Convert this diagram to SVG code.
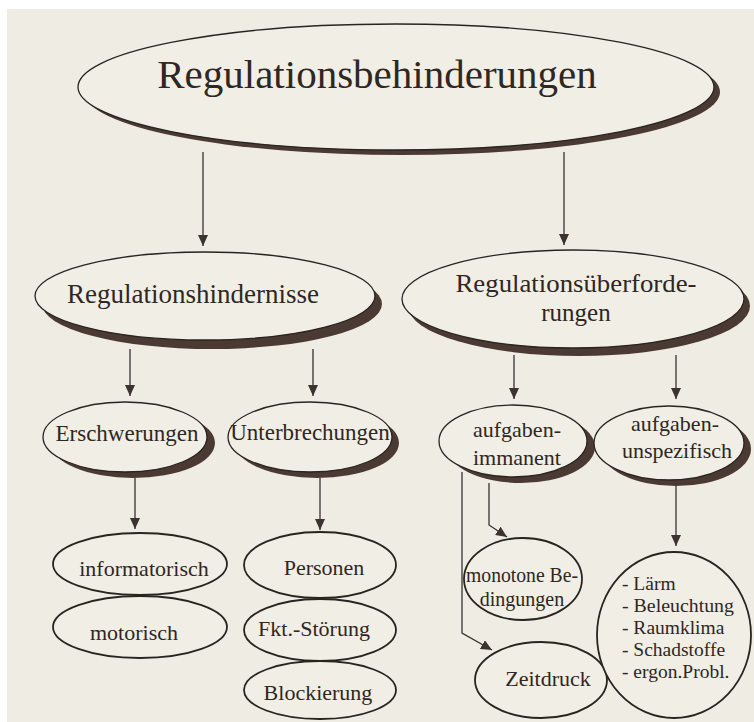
<svg xmlns="http://www.w3.org/2000/svg" width="754" height="722" viewBox="0 0 754 722">
<defs>
<marker id="ah" markerUnits="userSpaceOnUse" markerWidth="11" markerHeight="10" refX="11" refY="5" orient="auto">
<path d="M0,0 L11,5 L0,10 z" fill="#3a3330"/>
</marker>
<style>
.bg{fill:#efece3}
.sh{fill:#4a3a33}
.el{fill:#f1eee6;stroke:#2a2420;stroke-width:1.3}
.e4{fill:#f1eee6;stroke:#2a2420;stroke-width:1.8}
text{font-family:"Liberation Serif","Times New Roman",serif;fill:#2e2723}
.t1{font-size:41px;text-anchor:middle}
.t2{font-size:27px;text-anchor:middle}
.t2b{font-size:25px;text-anchor:middle}
.t3{font-size:23px;text-anchor:middle}
.t3b{font-size:22px;text-anchor:middle}
.t4{font-size:22px;text-anchor:middle}
.t4b{font-size:20px;text-anchor:middle}
.tl{font-size:19.5px}
.cn line,.cn polyline{stroke:#3a3330;stroke-width:1.3;fill:none;marker-end:url(#ah)}
</style>
</defs>
<rect x="0" y="0" width="754" height="722" fill="#ffffff"/>
<rect class="bg" x="7" y="9" width="747" height="713"/>

<g class="cn" id="connectors">
<line x1="203" y1="152" x2="203" y2="246"/>
<line x1="564" y1="152" x2="564" y2="245"/>
<line x1="130" y1="349" x2="130" y2="396"/>
<line x1="313" y1="349" x2="313" y2="396"/>
<line x1="514" y1="355" x2="514" y2="399"/>
<line x1="676" y1="355" x2="676" y2="399"/>
<line x1="135" y1="478" x2="135" y2="529"/>
<line x1="320" y1="478" x2="320" y2="530"/>
<line x1="676" y1="485" x2="676" y2="546"/>
<polyline points="489,483 489,525 507,537"/>
<polyline points="462,472 462,633 492,650"/>
</g>

<g id="n-top">
<ellipse class="sh" cx="402" cy="92" rx="318" ry="63"/>
<ellipse class="el" cx="396" cy="87" rx="318" ry="63"/>
<text class="t1" x="377" y="88">Regulationsbehinderungen</text>
</g>

<g id="n-hindernisse">
<ellipse class="sh" cx="212" cy="304" rx="170" ry="45"/>
<ellipse class="el" cx="205" cy="296" rx="170" ry="44"/>
<text class="t2" x="193" y="303">Regulationshindernisse</text>
</g>

<g id="n-ueberforderungen">
<ellipse class="sh" cx="579" cy="306" rx="171" ry="50"/>
<ellipse class="el" cx="573" cy="299" rx="171" ry="49"/>
<text class="t2b" x="576" y="292" textLength="241" lengthAdjust="spacingAndGlyphs">Regulationsüberforde-</text>
<text class="t2b" x="576" y="321">rungen</text>
</g>

<g id="n-erschwerungen">
<ellipse class="sh" cx="133" cy="443" rx="82" ry="35"/>
<ellipse class="el" cx="125" cy="437" rx="82" ry="35"/>
<text class="t3" x="127" y="441">Erschwerungen</text>
</g>

<g id="n-unterbrechungen">
<ellipse class="sh" cx="317" cy="443" rx="82" ry="35"/>
<ellipse class="el" cx="310" cy="437" rx="82" ry="35"/>
<text class="t3" x="310" y="440">Unterbrechungen</text>
</g>

<g id="n-immanent">
<ellipse class="sh" cx="521" cy="447" rx="74" ry="36"/>
<ellipse class="el" cx="513" cy="441" rx="74" ry="36"/>
<text class="t3b" x="517" y="437">aufgaben-</text>
<text class="t3b" x="517" y="465">immanent</text>
</g>

<g id="n-unspezifisch">
<ellipse class="sh" cx="676" cy="449" rx="75" ry="37"/>
<ellipse class="el" cx="669" cy="443" rx="75" ry="37"/>
<text class="t3b" x="675" y="431">aufgaben-</text>
<text class="t3b" x="677" y="458" textLength="110" lengthAdjust="spacingAndGlyphs">unspezifisch</text>
</g>

<g id="n-informatorisch">
<ellipse class="e4" cx="140" cy="564" rx="87" ry="31"/>
<text class="t4" x="144" y="576">informatorisch</text>
</g>

<g id="n-motorisch">
<ellipse class="e4" cx="140" cy="627" rx="87" ry="31"/>
<text class="t4" x="134" y="640">motorisch</text>
</g>

<g id="n-personen">
<ellipse class="e4" cx="320" cy="565" rx="76" ry="33"/>
<text class="t4" x="324" y="575">Personen</text>
</g>

<g id="n-fkt">
<ellipse class="e4" cx="320" cy="630" rx="76" ry="31"/>
<text class="t4" x="314" y="636">Fkt.-Störung</text>
</g>

<g id="n-blockierung">
<ellipse class="e4" cx="320" cy="690" rx="76" ry="29"/>
<text class="t4" x="318" y="700">Blockierung</text>
</g>

<g id="n-monoton">
<ellipse class="e4" cx="523" cy="579" rx="59" ry="41"/>
<text class="t4b" x="522" y="582" textLength="112" lengthAdjust="spacingAndGlyphs">monotone Be-</text>
<text class="t4b" x="522" y="606">dingungen</text>
</g>

<g id="n-zeitdruck">
<ellipse class="e4" cx="541" cy="680" rx="66" ry="38"/>
<text class="t4" x="548" y="686">Zeitdruck</text>
</g>

<g id="n-umwelt">
<ellipse class="e4" cx="674" cy="635" rx="77" ry="83"/>
<text class="tl" x="622" y="590">- Lärm</text>
<text class="tl" x="622" y="612" textLength="112" lengthAdjust="spacingAndGlyphs">- Beleuchtung</text>
<text class="tl" x="622" y="634">- Raumklima</text>
<text class="tl" x="622" y="656">- Schadstoffe</text>
<text class="tl" x="622" y="678">- ergon.Probl.</text>
</g>
</svg>
